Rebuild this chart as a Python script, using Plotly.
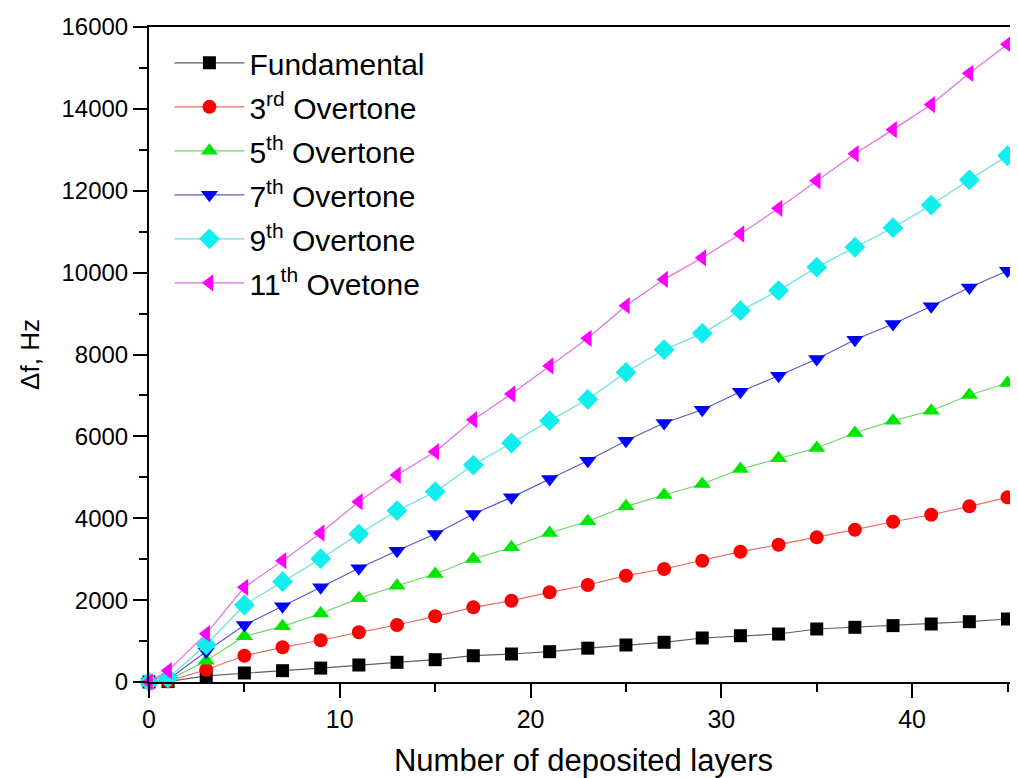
import plotly.graph_objects as go

layers = [0, 1, 3, 5, 7, 9, 11, 13, 15, 17, 19, 21, 23, 25, 27, 29, 31, 33, 35, 37, 39, 41, 43, 45]

fundamental = [0, 10, 150, 220, 276, 340, 415, 481, 545, 642, 684, 740, 826, 904, 970, 1075,
               1131, 1172, 1295, 1336, 1377, 1417, 1473, 1539]
overtone3 = [0, 20, 300, 642, 848, 1020, 1214, 1392, 1605, 1824, 1986, 2191, 2369, 2597, 2760,
             2963, 3183, 3354, 3534, 3720, 3915, 4086, 4291, 4511]
overtone5 = [0, 40, 520, 1116, 1360, 1673, 2044, 2352, 2638, 3004, 3290, 3639, 3928, 4291, 4568,
             4836, 5203, 5464, 5716, 6082, 6383, 6627, 7010, 7303]
overtone7 = [0, 55, 745, 1392, 1849, 2313, 2777, 3208, 3615, 4104, 4511, 4958, 5406, 5894, 6326,
             6651, 7091, 7482, 7890, 8361, 8744, 9177, 9636, 10044]
overtone9 = [0, 100, 910, 1881, 2450, 3012, 3615, 4185, 4648, 5300, 5838, 6383, 6905, 7565, 8117,
             8517, 9070, 9562, 10134, 10620, 11097, 11651, 12267, 12855]
overtone11 = [0, 276, 1180, 2313, 2963, 3639, 4404, 5056, 5626, 6407, 7035, 7720, 8395, 9192, 9835,
              10361, 10943, 11570, 12245, 12904, 13493, 14106, 14868, 15579]

series_names = ["Fundamental", "3<sup>rd</sup> Overtone", "5<sup>th</sup> Overtone",
                "7<sup>th</sup> Overtone", "9<sup>th</sup> Overtone", "11<sup>th</sup> Ovetone"]
series_values = [fundamental, overtone3, overtone5, overtone7, overtone9, overtone11]
marker_colors = ["#000000", "#ff0000", "#00e600", "#0000ff", "#11eeee", "#ff00ff"]
line_colors = ["#606060", "#f06a6a", "#6ad86a", "#5a5ac0", "#66e0e0", "#e070e0"]
symbols = ["square", "circle", "triangle-up", "triangle-down", "diamond", "triangle-left"]
sizes = [13, 14, 15, 15, 16, 15]

fig = go.Figure()
for i, (name, vals) in enumerate(zip(series_names, series_values)):
    fig.add_trace(go.Scatter(
        x=layers, y=vals, name=name, mode="lines+markers",
        legendgroup=f"g{i}",
        line=dict(color=line_colors[i], width=1.2),
        marker=dict(symbol=symbols[i], size=sizes[i], color=marker_colors[i],
                    line=dict(width=0)),
        cliponaxis=False,
    ))

font_family = "Liberation Sans, Arial, sans-serif"
fig.update_layout(
    width=1010, height=770,
    margin=dict(l=141, r=0, t=19, b=96),
    paper_bgcolor="white", plot_bgcolor="white",
    font=dict(family=font_family, color="black", size=24),
    showlegend=True,
    legend=dict(x=0.0235, y=0.985, xanchor="left", yanchor="top",
                bgcolor="rgba(0,0,0,0)", font=dict(size=30, family=font_family),
                itemwidth=70, tracegroupgap=2),
    xaxis=dict(range=[0, 45.55], dtick=10, tick0=0, showgrid=False, zeroline=False,
               showline=True, linecolor="black", linewidth=2, mirror=True,
               ticks="outside", ticklen=14, tickwidth=2, tickcolor="black",
               tickfont=dict(size=25),
               minor=dict(ticks="outside", dtick=5, ticklen=8, tickwidth=2, tickcolor="black"),
               title=dict(text="Number of deposited layers", font=dict(size=31), standoff=20)),
    yaxis=dict(range=[0, 16000], dtick=2000, tick0=0, showgrid=False, zeroline=False,
               showline=True, linecolor="black", linewidth=2, tickformat="d",
               ticks="outside", ticklen=14, tickwidth=2, tickcolor="black",
               tickfont=dict(size=24),
               minor=dict(ticks="outside", dtick=1000, ticklen=8, tickwidth=2, tickcolor="black"),
               title=dict(text="Δf, Hz", font=dict(size=26), standoff=14)),
)

fig.write_html("out.html")
